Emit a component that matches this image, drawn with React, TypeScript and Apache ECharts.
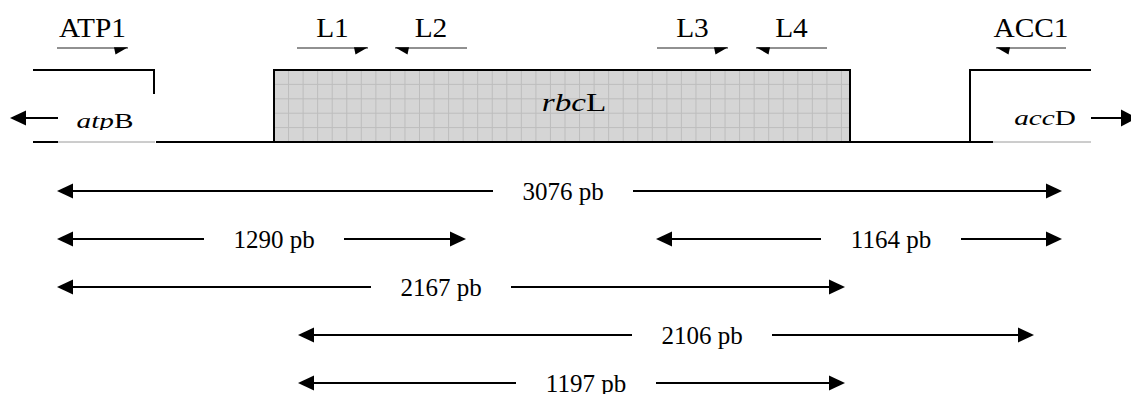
import React, { useEffect, useRef } from "react";
import * as echarts from "echarts";

const W = 1131;
const H = 394;
const SERIF = "'Liberation Serif', 'Times New Roman', serif";

// ---- Gene map (positions in map units on the x axis) ----
const geneItalic = ["atp", "rbc", "acc"];
const geneSuffix = ["B", "L", "D"];
const geneStart = [33, 274, 970];
const geneEnd = [154, 850, 1091];
const geneLabelX = [105, 574, 1045];

// ---- Primers ----
const primerNames = ["ATP1", "L1", "L2", "L3", "L4", "ACC1"];
const primerFrom = [57, 297, 395, 657, 756, 996];
const primerTo = [128, 368, 467, 728, 827, 1066];
const primerDir = [1, 1, -1, 1, -1, -1];

// ---- Amplicons ----
const ampLabels = ["3076 pb", "1290 pb", "1164 pb", "2167 pb", "2106 pb", "1197 pb"];
const ampFrom = [57, 57, 656, 57, 298, 298];
const ampTo = [1062, 466, 1062, 845, 1034, 845];
const ampRow = [0, 1, 1, 2, 3, 4];
const ampLabelX = [563, 274, 891, 441, 702, 586];

// layout (vertical, in axis units)
const GENE_TOP = 70;
const GENE_BOT = 142;
const PRIMER_Y = 48;
const PRIMER_LABEL_Y = 27;
const ROW_Y = [191, 239, 287, 335, 383];
const GENE_FONT = [22, 25, 22];
const GENE_LABEL_Y = [121, 103, 118];

function headPoly(tipX: number, y: number, dir: number, len: number, half: number) {
  return [
    [tipX, y],
    [tipX - dir * len, y - half],
    [tipX - dir * len, y + half],
  ];
}

function geneText(i: number, x: number, y: number) {
  const f = GENE_FONT[i];
  return {
    type: "text",
    x,
    y,
    scaleX: 1.33,
    style: {
      text: `{i|${geneItalic[i]}}{n|${geneSuffix[i]}}`,
      rich: {
        i: { fontFamily: SERIF, fontSize: f, fontStyle: "italic", fill: "#000" },
        n: { fontFamily: SERIF, fontSize: f, fill: "#000" },
      },
      fontFamily: SERIF,
      fontSize: f,
      align: "center",
      verticalAlign: "middle",
      fill: "#000",
    },
  };
}

const blackLine = (x1: number, y1: number, x2: number, y2: number, w = 2, c = "#000") => ({
  type: "line",
  shape: { x1, y1, x2, y2 },
  style: { stroke: c, lineWidth: w },
});

const option: any = {
  animation: false,
  backgroundColor: "#ffffff",
  grid: { left: 0, right: 0, top: 0, bottom: 0 },
  xAxis: { type: "value", min: 0, max: W, show: false },
  yAxis: { type: "value", min: 0, max: H, inverse: true, show: false },
  series: [
    {
      // backbone
      type: "custom",
      z: 1,
      clip: false,
      data: [[geneStart[0], geneEnd[geneEnd.length - 1]]],
      encode: { x: [0, 1] },
      renderItem: (_p: any, api: any) => {
        const a = api.coord([api.value(0), GENE_BOT]);
        const b = api.coord([api.value(1), GENE_BOT]);
        return blackLine(a[0], a[1], b[0], b[1]);
      },
    },
    {
      // genes
      type: "custom",
      z: 2,
      clip: false,
      data: geneStart.map((s, i) => [s, geneEnd[i], geneLabelX[i]]),
      encode: { x: [0, 1, 2] },
      renderItem: (params: any, api: any) => {
        const i = params.dataIndex;
        const x0 = api.coord([api.value(0), 0])[0];
        const x1 = api.coord([api.value(1), 0])[0];
        const lx = api.coord([api.value(2), 0])[0];
        const top = api.coord([0, GENE_TOP])[1];
        const bot = api.coord([0, GENE_BOT])[1];
        const ly = api.coord([0, GENE_LABEL_Y[i]])[1];
        const children: any[] = [];
        if (i === 1) {
          children.push({
            type: "rect",
            shape: { x: x0, y: top, width: x1 - x0, height: bot - top },
            style: { fill: "#d5d5d5" },
          });
          const sx = 14.55;
          for (let gx = x0 + sx; gx < x1 - 2; gx += sx) {
            children.push(blackLine(gx, top, gx, bot, 1, "#bdbdbd"));
          }
          const sy = (bot - top) / 5;
          for (let k = 1; k < 5; k++) {
            children.push(blackLine(x0, top + k * sy, x1, top + k * sy, 1, "#bdbdbd"));
          }
          children.push({
            type: "rect",
            shape: { x: x0, y: top, width: x1 - x0, height: bot - top },
            style: { fill: "none", stroke: "#000", lineWidth: 2 },
          });
          children.push(geneText(i, lx, ly));
        } else if (i === 0) {
          const fl = x0 + 25;
          const ft = api.coord([0, 94])[1];
          children.push(blackLine(x0, top, x1, top));
          children.push(blackLine(x1, top - 1, x1, bot));
          children.push({
            type: "rect",
            shape: { x: fl, y: ft, width: x1 + 2 - fl, height: bot + 2 - ft },
            style: { fill: "#fff" },
          });
          children.push(geneText(i, lx, ly));
          children.push({
            type: "rect",
            shape: { x: fl, y: bot - 12, width: x1 + 2 - fl, height: 14 },
            style: { fill: "#fff" },
          });
          children.push(blackLine(fl, bot, x1 + 1, bot, 1, "#9a9a9a"));
          // strand arrow (leftwards)
          const ay = api.coord([0, 118])[1];
          const tip = x0 - 23;
          children.push(blackLine(fl, ay, tip + 15, ay));
          children.push({ type: "polygon", shape: { points: headPoly(tip, ay, -1, 16, 7.5) }, style: { fill: "#000" } });
        } else {
          const fl = x0 + 23;
          const ft = api.coord([0, 96])[1];
          children.push(blackLine(x0, top, x1, top));
          children.push(blackLine(x0, top - 1, x0, bot));
          children.push({
            type: "rect",
            shape: { x: fl, y: ft, width: x1 - fl, height: bot + 2 - ft },
            style: { fill: "#fff" },
          });
          children.push(geneText(i, lx, ly));
          children.push(blackLine(fl, bot, x1, bot, 1, "#9a9a9a"));
          // strand arrow (rightwards)
          const ay = api.coord([0, 118])[1];
          const tip = x1 + 46;
          children.push(blackLine(x1, ay, tip - 15, ay));
          children.push({ type: "polygon", shape: { points: headPoly(tip, ay, 1, 16, 8.5) }, style: { fill: "#000" } });
        }
        return { type: "group", children };
      },
    },
    {
      // primers
      type: "custom",
      z: 3,
      clip: false,
      data: primerFrom.map((s, i) => [s, primerTo[i], primerDir[i]]),
      encode: { x: [0, 1] },
      renderItem: (params: any, api: any) => {
        const i = params.dataIndex;
        const x0 = api.coord([api.value(0), 0])[0];
        const x1 = api.coord([api.value(1), 0])[0];
        const dir = api.value(2);
        const y = api.coord([0, PRIMER_Y])[1];
        const ly = api.coord([0, PRIMER_LABEL_Y])[1];
        const tip = dir > 0 ? x1 : x0;
        const back = tip - dir * 14;
        return {
          type: "group",
          children: [
            blackLine(x0, y, x1, y, 1, "#222"),
            {
              type: "polygon",
              shape: { points: [[back, y - 0.8], [tip, y - 0.8], [back + dir * 1.5, y + 6.5]] },
              style: { fill: "#000" },
            },
            {
              type: "text",
              x: (x0 + x1) / 2,
              y: ly,
              scaleX: 1.05,
              style: {
                text: primerNames[i],
                fontFamily: SERIF,
                fontSize: 28,
                fill: "#000",
                align: "center",
                verticalAlign: "middle",
              },
            },
          ],
        };
      },
    },
    {
      // amplicons
      type: "custom",
      z: 3,
      clip: false,
      data: ampFrom.map((s, i) => [s, ampTo[i], ampLabelX[i], ampRow[i]]),
      encode: { x: [0, 1, 2] },
      renderItem: (params: any, api: any) => {
        const i = params.dataIndex;
        const x0 = api.coord([api.value(0), 0])[0];
        const x1 = api.coord([api.value(1), 0])[0];
        const lx = api.coord([api.value(2), 0])[0];
        const y = api.coord([0, ROW_Y[api.value(3)]])[1];
        const halfGap = 70;
        return {
          type: "group",
          children: [
            blackLine(x0 + 14, y, lx - halfGap, y),
            blackLine(lx + halfGap, y, x1 - 14, y),
            { type: "polygon", shape: { points: headPoly(x0, y, -1, 16, 7.5) }, style: { fill: "#000" } },
            { type: "polygon", shape: { points: headPoly(x1, y, 1, 16, 7.5) }, style: { fill: "#000" } },
            {
              type: "text",
              x: lx,
              y,
              style: {
                text: ampLabels[i],
                fontFamily: SERIF,
                fontSize: 25,
                fill: "#000",
                align: "center",
                verticalAlign: "middle",
              },
            },
          ],
        };
      },
    },
  ],
};

export default function App() {
  const ref = useRef<HTMLDivElement>(null);
  useEffect(() => {
    document.body.style.margin = "0";
    const chart = echarts.init(ref.current as HTMLDivElement, null, { renderer: "svg" });
    chart.setOption(option);
    return () => chart.dispose();
  }, []);
  return <div ref={ref} style={{ width: W, height: H }} />;
}
